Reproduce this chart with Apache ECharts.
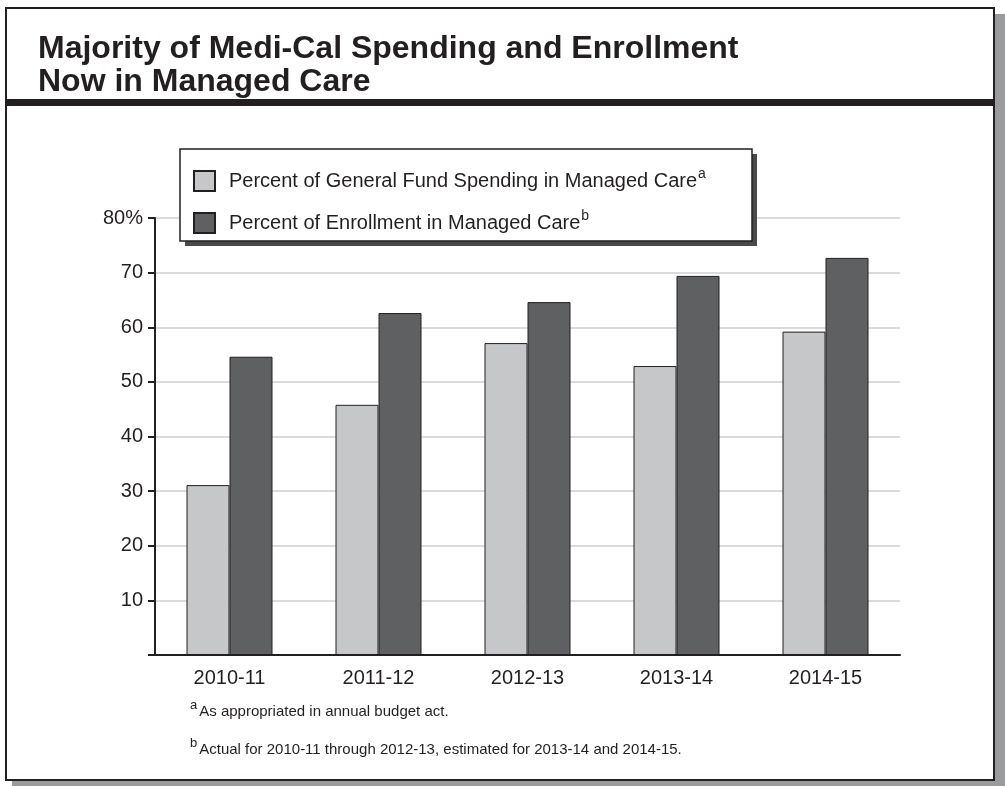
<!DOCTYPE html>
<html>
<head>
  <meta charset="UTF-8">
  <title>Medi-Cal Managed Care</title>
  <script src="https://cdn.jsdelivr.net/npm/echarts@6/dist/echarts.min.js"></script>
  <style>
    html, body { margin: 0; padding: 0; background: #fff; }
    #main { width: 1005px; height: 786px; }
  </style>
</head>
<body>
  <div id="main"></div>
  <script type="text/javascript">
    // chart data
    var years = ['2010-11', '2011-12', '2012-13', '2013-14', '2014-15'];
    var spendingPct = [31.1, 45.8, 57.1, 52.9, 59.2];
    var enrollmentPct = [54.6, 62.6, 64.6, 69.4, 72.7];
    var seriesNames = ['Percent of General Fund Spending in Managed Care', 'Percent of Enrollment in Managed Care'];
    var seriesNotes = ['a', 'b'];
    var footnotes = [
      ['a', 'As appropriated in annual budget act.'],
      ['b', 'Actual for 2010-11 through 2012-13, estimated for 2013-14 and 2014-15.']
    ];

    var ink = '#231f20';
    var font = 'Liberation Sans, Arial, sans-serif';

    var myChart = echarts.init(document.getElementById('main'));

    // page frame, title rule and legend box
    var frame = [
      { type: 'rect', z: -10, shape: { x: 12, y: 14, width: 993, height: 772 }, style: { fill: '#9a9b9d' } },
      { type: 'rect', z: -9, shape: { x: 6, y: 8, width: 988, height: 772 }, style: { fill: '#fff', stroke: ink, lineWidth: 2 } },
      { type: 'rect', z: -8, shape: { x: 6, y: 99, width: 988, height: 7 }, style: { fill: ink } },
      { type: 'rect', z: 5, shape: { x: 185, y: 154, width: 572, height: 92 }, style: { fill: '#4a4a4a' } },
      { type: 'rect', z: 5, shape: { x: 180, y: 149, width: 572, height: 92 }, style: { fill: '#fff', stroke: ink, lineWidth: 1.5 } }
    ];
    footnotes.forEach(function (f, i) {
      frame.push({
        type: 'text', left: 190, top: 699 + i * 38,
        style: {
          text: '{sup|' + f[0] + '}{txt|' + f[1] + '}',
          rich: {
            sup: { fontSize: 13, fontFamily: font, fill: ink, padding: [0, 2, 12, 0] },
            txt: { fontSize: 15, fontFamily: font, fill: ink }
          }
        }
      });
    });

    var option = {
      animation: false,
      textStyle: { fontFamily: font, color: ink },
      title: {
        text: 'Majority of Medi-Cal Spending and Enrollment\nNow in Managed Care',
        left: 33, top: 28,
        textStyle: { fontFamily: font, fontWeight: 'bold', fontSize: 32, lineHeight: 33, color: ink }
      },
      legend: {
        orient: 'vertical',
        left: 193, top: 167,
        padding: 0,
        z: 10,
        icon: 'rect',
        itemWidth: 21, itemHeight: 20, itemGap: 17,
        formatter: function (name) {
          return '{t|' + name + '}{sup|' + seriesNotes[seriesNames.indexOf(name)] + '}';
        },
        textStyle: {
          rich: {
            t: { fontSize: 20, fontFamily: font, color: ink, padding: [0, 0, 0, 9] },
            sup: { fontSize: 14, fontFamily: font, color: ink, padding: [0, 0, 14, 1] }
          }
        },
        data: seriesNames
      },
      grid: { left: 155, right: 105, top: 218, bottom: 131, containLabel: false },
      xAxis: {
        type: 'category',
        data: years,
        axisLine: { lineStyle: { color: ink, width: 2 } },
        axisTick: { show: false },
        axisLabel: { fontSize: 20, color: ink, margin: 13 }
      },
      yAxis: {
        type: 'value',
        min: 0, max: 80, interval: 10,
        axisLine: { show: true, lineStyle: { color: ink, width: 2 } },
        axisTick: { show: true, length: 7, lineStyle: { color: ink, width: 2 } },
        axisLabel: {
          fontSize: 20, color: ink, margin: 12,
          formatter: function (v) { return v === 0 ? '' : (v === 80 ? '80%' : String(v)); }
        },
        splitLine: { show: true, lineStyle: { color: '#cfcfcf', width: 1.5 } }
      },
      series: [
        {
          name: seriesNames[0], type: 'bar', data: spendingPct,
          barWidth: 43, barGap: '0%',
          itemStyle: { color: '#c6c7c9', borderColor: ink, borderWidth: 1 }
        },
        {
          name: seriesNames[1], type: 'bar', data: enrollmentPct,
          barWidth: 43, barGap: '0%',
          itemStyle: { color: '#5f6062', borderColor: ink, borderWidth: 1 }
        }
      ],
      graphic: frame
    };

    myChart.setOption(option);
  </script>
</body>
</html>
